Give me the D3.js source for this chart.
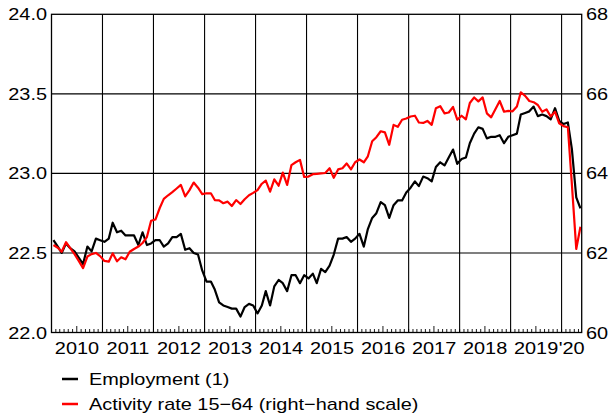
<!doctype html>
<html>
<head>
<meta charset="UTF-8">
<title>Employment and activity rate</title>
<script src="https://cdn.jsdelivr.net/npm/d3@7"></script>
<style>
  body { margin: 0; background: #fff; }
  text { font-family: "Liberation Sans", Arial, sans-serif; font-size: 17px; fill: #000; }
</style>
</head>
<body>
<script>
// monthly data, Jan 2010 - May 2020
var startYear = 2010;
var employment = [
  22.58,22.54,22.50,22.56,22.53,22.51,22.47,22.43,22.54,22.51,22.59,22.58,
  22.57,22.59,22.69,22.63,22.64,22.61,22.61,22.61,22.55,22.63,22.55,22.56,
  22.58,22.58,22.54,22.56,22.60,22.60,22.62,22.52,22.53,22.50,22.49,22.39,
  22.32,22.32,22.27,22.19,22.17,22.16,22.15,22.15,22.10,22.16,22.18,22.17,
  22.12,22.17,22.26,22.17,22.29,22.33,22.31,22.26,22.36,22.36,22.31,22.36,
  22.34,22.37,22.31,22.40,22.38,22.42,22.49,22.59,22.59,22.60,22.57,22.59,
  22.62,22.54,22.65,22.72,22.75,22.82,22.80,22.72,22.80,22.83,22.83,22.88,
  22.91,22.95,22.92,22.98,22.97,22.95,23.04,23.07,23.05,23.10,23.15,23.06,
  23.09,23.10,23.19,23.25,23.29,23.28,23.22,23.23,23.23,23.24,23.19,23.23,
  23.24,23.25,23.37,23.38,23.39,23.42,23.36,23.37,23.36,23.34,23.41,23.33,
  23.31,23.32,23.15,22.85,22.78
];
var activity = [
  62.20,62.13,62.03,62.27,62.12,61.97,61.80,61.62,61.91,61.97,62.00,61.92,
  61.80,61.78,61.99,61.79,61.89,61.84,62.03,62.10,62.16,62.25,62.40,62.81,
  62.84,63.13,63.36,63.45,63.53,63.62,63.71,63.42,63.58,63.77,63.64,63.48,
  63.50,63.50,63.33,63.32,63.25,63.29,63.18,63.33,63.23,63.35,63.45,63.51,
  63.58,63.74,63.82,63.54,63.85,63.69,64.02,63.71,64.21,64.28,64.34,63.91,
  63.92,63.98,63.99,64.00,64.01,64.13,63.89,64.10,64.13,64.25,64.10,64.28,
  64.35,64.28,64.43,64.81,64.91,65.06,65.03,64.72,65.22,65.17,65.35,65.38,
  65.43,65.45,65.28,65.27,65.32,65.22,65.64,65.69,65.51,65.53,65.67,65.35,
  65.45,65.36,65.77,65.91,65.81,65.91,65.51,65.41,65.62,65.82,65.55,65.57,
  65.56,65.68,66.04,65.95,65.82,65.79,65.72,65.55,65.61,65.43,65.55,65.26,
  65.19,65.16,63.71,62.10,62.66
];
var leftTicks = [22.0, 22.5, 23.0, 23.5, 24.0];
var rightTicks = [60, 62, 64, 66, 68];
var yearLabels = ["2010","2011","2012","2013","2014","2015","2016","2017","2018","2019","'20"];
var seriesNames = ["Employment (1)", "Activity rate 15\u221264 (right\u2212hand scale)"];
var seriesColors = ["#000000", "#ff0000"];

var w = 613, h = 417;
var plotL = 51.5, plotR = 581.7, plotT = 14.3, plotB = 332.5;

var svg = d3.select("body").append("svg")
    .attr("width", w).attr("height", h);

var x = d3.scaleTime()
    .domain([new Date(2010, 0, 1), new Date(2020, 4, 24)])
    .range([plotL, plotR]);
var yL = d3.scaleLinear().domain([22, 24]).range([plotB, plotT]);
var yR = d3.scaleLinear().domain([60, 68]).range([plotB, plotT]);

var dates = employment.map(function(d, i){ return new Date(startYear, i, 15); });

// gridlines
var years = d3.timeYear.range(new Date(2011, 0, 1), new Date(2020, 1, 1));
svg.append("g").selectAll("line").data(years).enter().append("line")
    .attr("x1", function(d){ return x(d); }).attr("x2", function(d){ return x(d); })
    .attr("y1", plotT).attr("y2", plotB)
    .attr("stroke", "#000").attr("stroke-width", 1.1);
svg.append("g").selectAll("line").data([22.5, 23.0, 23.5]).enter().append("line")
    .attr("x1", plotL).attr("x2", plotR)
    .attr("y1", function(d){ return yL(d); }).attr("y2", function(d){ return yL(d); })
    .attr("stroke", "#000").attr("stroke-width", 1.1);

// month ticks on the bottom edge, pointing up
var months = d3.timeMonth.range(new Date(2010, 1, 1), new Date(2020, 5, 1))
    .filter(function(d){ return x(d) < plotR; });
svg.append("g").selectAll("line").data(months).enter().append("line")
    .attr("x1", function(d){ return x(d); }).attr("x2", function(d){ return x(d); })
    .attr("y1", plotB)
    .attr("y2", function(d){ return plotB - (d.getMonth() == 6 ? 6.5 : 3.5); })
    .attr("stroke", "#000").attr("stroke-width", 0.9);

// lines
var lineL = d3.line().x(function(d, i){ return x(dates[i]); }).y(function(d){ return yL(d); });
var lineR = d3.line().x(function(d, i){ return x(dates[i]); }).y(function(d){ return yR(d); });
svg.append("path").datum(employment).attr("d", lineL)
    .attr("fill", "none").attr("stroke", seriesColors[0]).attr("stroke-width", 2.2)
    .attr("stroke-linejoin", "round");
svg.append("path").datum(activity).attr("d", lineR)
    .attr("fill", "none").attr("stroke", seriesColors[1]).attr("stroke-width", 2.2)
    .attr("stroke-linejoin", "round");

// frame
svg.append("rect")
    .attr("x", plotL).attr("y", plotT)
    .attr("width", plotR - plotL).attr("height", plotB - plotT)
    .attr("fill", "none").attr("stroke", "#000").attr("stroke-width", 1.3);

// axis labels
svg.append("g").selectAll("text").data(leftTicks).enter().append("text")
    .attr("x", 47).attr("y", function(d){ return yL(d) + 6; })
    .attr("text-anchor", "end")
    .text(d3.format(".1f"));
svg.append("g").selectAll("text").data(rightTicks).enter().append("text")
    .attr("x", 586).attr("y", function(d){ return yR(d) + 6; })
    .text(function(d){ return d; });

var yearStarts = d3.timeYear.range(new Date(2010, 0, 1), new Date(2021, 0, 1));
svg.append("g").selectAll("text").data(yearStarts).enter().append("text")
    .attr("x", function(d){
        var a = x(d), b = Math.min(x(d3.timeYear.offset(d, 1)), plotR);
        return (a + b) / 2;
    })
    .attr("y", 354)
    .attr("text-anchor", "middle")
    .text(function(d, i){ return yearLabels[i]; });

// legend
var leg = svg.append("g").selectAll("g").data(seriesNames).enter().append("g")
    .attr("transform", function(d, i){ return "translate(0," + (379 + 25 * i) + ")"; });
leg.append("line").attr("x1", 62).attr("x2", 78).attr("y1", 0).attr("y2", 0)
    .attr("stroke", function(d, i){ return seriesColors[i]; }).attr("stroke-width", 2.5);
leg.append("text").attr("x", 89).attr("y", 6).text(function(d){ return d; });

// the original text is a bit wider than the font
svg.selectAll("text").each(function(){
    var len = this.getComputedTextLength();
    d3.select(this).attr("textLength", len * 1.17).attr("lengthAdjust", "spacingAndGlyphs");
});
</script>
</body>
</html>
